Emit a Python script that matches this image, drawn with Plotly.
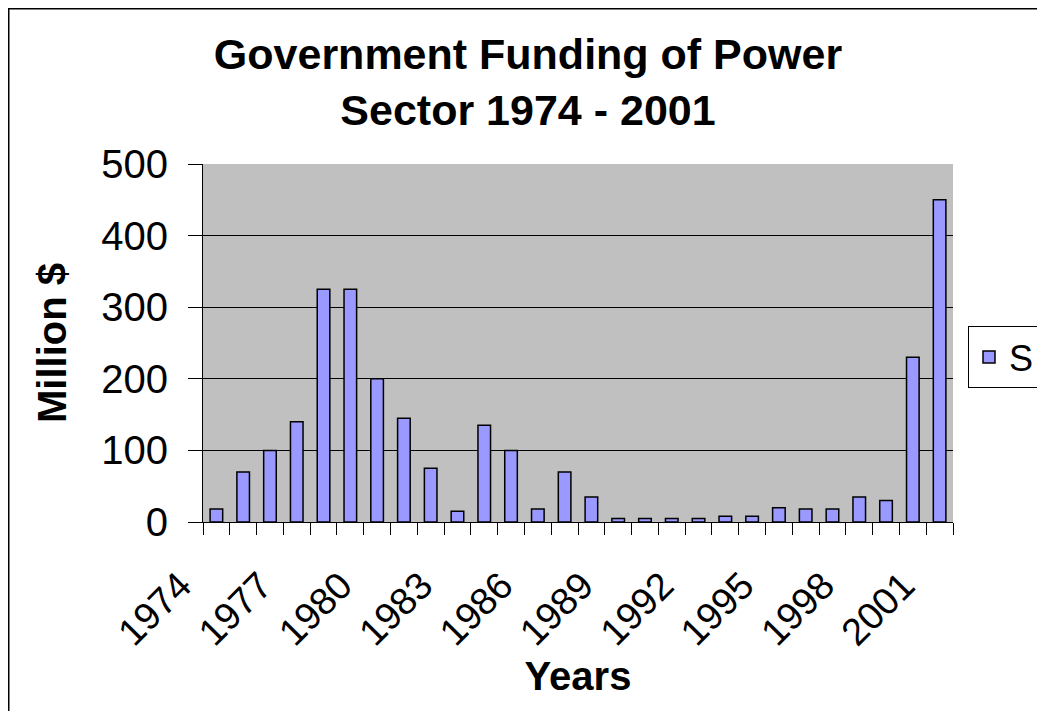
import plotly.graph_objects as go

years = list(range(1974, 2002))
funding = [18, 70, 100, 140, 325, 325, 200, 145, 75, 15, 135, 100, 18, 70, 35,
           5, 5, 5, 5, 8, 8, 20, 18, 18, 35, 30, 230, 450]
label_years = [1974, 1977, 1980, 1983, 1986, 1989, 1992, 1995, 1998, 2001]
series_name = "S"

FONT = "Arial, Liberation Sans, sans-serif"
W, H = 1045, 711
OFF = 8                      # page body margin
PL, PR = 203 - OFF, 953 - OFF
PT, PB = 164 - OFF, 522 - OFF

n = len(years)
idx = list(range(n))
label_pos = [years.index(y) for y in label_years]

def px_x(p):
    return (p - OFF - PL) / (PR - PL)

def px_y(p):
    return (PB - (p - OFF)) / (PB - PT)

fig = go.Figure()
fig.add_trace(go.Bar(
    x=idx, y=funding, name=series_name, width=0.47,
    marker=dict(color="#9999FF", line=dict(color="black", width=1.5)),
    showlegend=True,
))

fig.update_layout(
    width=W, height=H,
    margin=dict(l=PL, r=W - PR, t=PT, b=H - PB, pad=0),
    paper_bgcolor="white", plot_bgcolor="#C0C0C0",
    font=dict(family=FONT, color="black"),
    title=dict(text="<b>Government Funding of Power<br>Sector 1974 - 2001</b>",
               font=dict(family=FONT, size=43, color="black"),
               x=(528 - OFF) / W, xref="container", xanchor="center",
               y=1 - (69 - OFF) / H, yref="container", yanchor="top"),
    xaxis=dict(range=[-0.5, n - 0.5], tickmode="array",
               tickvals=label_pos, ticktext=[str(y) for y in label_years],
               tickangle=-45, ticks="", ticklabelshift=-36, ticklabelstandoff=25,
               tickfont=dict(family=FONT, size=38),
               minor=dict(tickvals=[i - 0.5 for i in range(n + 1)],
                          ticks="outside", ticklen=12, tickcolor="black",
                          tickwidth=1, showgrid=False),
               showline=True, linecolor="black", linewidth=1, showgrid=False,
               zeroline=False, fixedrange=True,
               title=dict(text="<b>Years</b>", font=dict(family=FONT, size=40),
                          standoff=9)),
    yaxis=dict(range=[0, 500], dtick=100, ticks="outside", ticklen=14,
               tickcolor="black", showline=True, linecolor="black", linewidth=1,
               showgrid=True, gridcolor="black", gridwidth=1, zeroline=False,
               tickfont=dict(family=FONT, size=40), ticklabelstandoff=12,
               title=dict(text="<b>Million $</b>", font=dict(family=FONT, size=40),
                          standoff=22)),
    legend=dict(x=px_x(968), xanchor="left",
                y=px_y(357), yanchor="middle",
                bgcolor="white", bordercolor="black", borderwidth=1,
                font=dict(family=FONT, size=36)),
    shapes=[dict(type="rect", xref="paper", yref="paper",
                 x0=px_x(OFF), x1=px_x(1100),
                 y0=px_y(800), y1=px_y(OFF),
                 line=dict(color="black", width=3), fillcolor="rgba(0,0,0,0)",
                 layer="below")],
)

fig.write_html("out.html")
